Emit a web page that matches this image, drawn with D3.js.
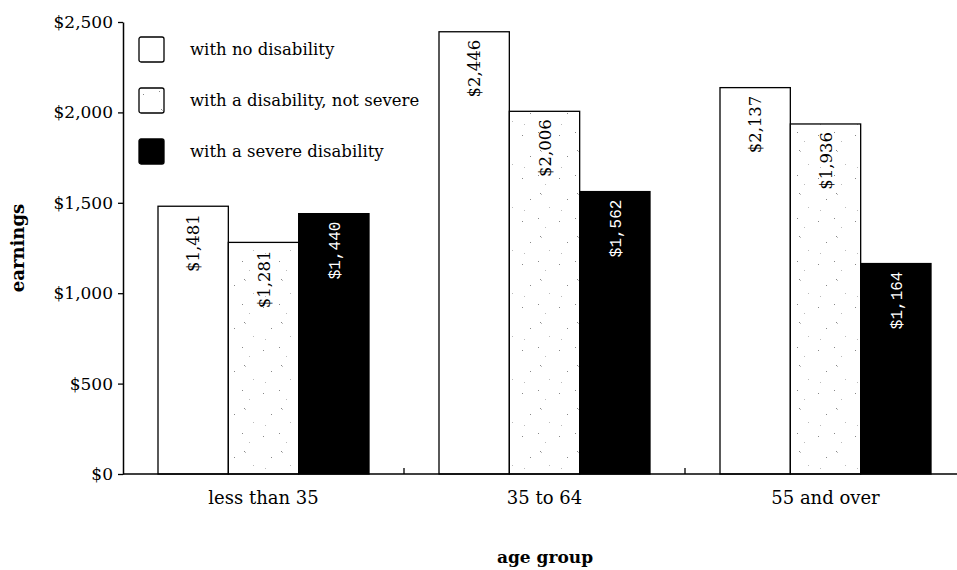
<!DOCTYPE html>
<html>
<head>
<meta charset="utf-8">
<script src="https://cdn.jsdelivr.net/npm/d3@7"></script>
<style>
  body { margin: 0; background: #fff; }
  svg { display: block; }
  text { font-family: "DejaVu Serif", serif; fill: #000; }
</style>
</head>
<body>
<div id="chart"></div>
<script>
// data
let ageGroups = ["less than 35", "35 to 64", "55 and over"];
let seriesNames = ["with no disability", "with a disability, not severe", "with a severe disability"];
let noDisability = [1481, 2446, 2137];
let notSevere = [1281, 2006, 1936];
let severe = [1440, 1562, 1164];
let yTicks = [0, 500, 1000, 1500, 2000, 2500];

let seriesValues = [noDisability, notSevere, severe];

let width = 957, height = 570;
let margin = {top: 22, left: 123, base: 474};
let plotRight = 966;

let svg = d3.select("#chart").append("svg")
    .attr("width", width)
    .attr("height", height);

// sparse stipple for the "not severe" bars
let defs = svg.append("defs");
let pat = defs.append("pattern")
    .attr("id", "stipple")
    .attr("patternUnits", "userSpaceOnUse")
    .attr("width", 37).attr("height", 43);
pat.append("rect").attr("width", 37).attr("height", 43).attr("fill", "#fff");
[[4, 6], [27, 12], [12, 27], [31, 35], [20, 3], [6, 38], [22, 21], [23, 22]].forEach(function(p, i) {
    pat.append("rect")
        .attr("x", p[0]).attr("y", p[1])
        .attr("width", 1).attr("height", 1)
        .attr("fill", i % 2 ? "#bbb" : "#888");
});

let x = d3.scaleBand()
    .domain(ageGroups)
    .range([margin.left, plotRight]);

let xs = d3.scaleBand()
    .domain(d3.range(seriesNames.length))
    .range([35, x.bandwidth() - 35]);

let y = d3.scaleLinear()
    .domain([0, 2500])
    .range([margin.base, margin.top]);

let fills = ["#fff", "url(#stipple)", "#000"];

// bars and rotated value labels
seriesValues.forEach(function(vals, si) {
    let g = svg.append("g");
    g.selectAll("rect")
        .data(vals)
        .join("rect")
        .attr("x", function(d, i) { return x(ageGroups[i]) + xs(si); })
        .attr("y", function(d) { return y(d); })
        .attr("width", xs.bandwidth())
        .attr("height", function(d) { return y(0) - y(d); })
        .attr("fill", fills[si])
        .attr("stroke", "#000")
        .attr("stroke-width", 1.3);

    g.selectAll("text")
        .data(vals)
        .join("text")
        .attr("transform", function(d, i) {
            let cx = x(ageGroups[i]) + xs(si) + xs.bandwidth() / 2 + 6;
            return "translate(" + cx + "," + (y(d) + 8) + ") rotate(-90)";
        })
        .attr("text-anchor", "end")
        .style("font-family", si === 2 ? "'Liberation Mono', monospace" : "'DejaVu Serif', serif")
        .style("font-size", si === 2 ? "16px" : "16.5px")
        .style("fill", si === 2 ? "#fff" : "#000")
        .text(function(d) { return "$" + d3.format(",")(d); });
});

// y axis
let yAxis = d3.axisLeft(y)
    .tickValues(yTicks)
    .tickSize(5)
    .tickSizeOuter(0)
    .tickFormat(function(d) { return "$" + d3.format(",")(d); });
let yg = svg.append("g")
    .attr("transform", "translate(" + margin.left + ",0)")
    .call(yAxis);
yg.select(".domain").attr("stroke-width", 1.5);
yg.selectAll(".tick line").attr("stroke-width", 1.3);
yg.selectAll(".tick text")
    .attr("x", -10)
    .style("font-family", "'DejaVu Serif', serif")
    .style("font-size", "17px");

// x axis: baseline with upward ticks between groups
let xg = svg.append("g")
    .attr("transform", "translate(0," + y(0) + ")");
xg.append("line")
    .attr("x1", margin.left).attr("x2", plotRight)
    .attr("stroke", "#000").attr("stroke-width", 1.5);
xg.selectAll(".sep")
    .data(ageGroups.slice(1))
    .join("line")
    .attr("class", "sep")
    .attr("x1", function(d) { return x(d); })
    .attr("x2", function(d) { return x(d); })
    .attr("y1", 0).attr("y2", -6)
    .attr("stroke", "#000").attr("stroke-width", 1.3);
xg.selectAll(".lbl")
    .data(ageGroups)
    .join("text")
    .attr("class", "lbl")
    .attr("x", function(d) { return x(d) + x.bandwidth() / 2; })
    .attr("y", 30)
    .attr("text-anchor", "middle")
    .style("font-size", "18px")
    .text(function(d) { return d; });

// axis titles
svg.append("text")
    .attr("transform", "translate(24,248) rotate(-90)")
    .attr("text-anchor", "middle")
    .style("font-size", "18px")
    .style("font-weight", "bold")
    .text("earnings");

svg.append("text")
    .attr("x", 545).attr("y", 563)
    .attr("text-anchor", "middle")
    .style("font-size", "17px")
    .style("font-weight", "bold")
    .text("age group");

// legend
let legend = svg.append("g").attr("transform", "translate(139,37)");
let items = legend.selectAll("g")
    .data(seriesNames)
    .join("g")
    .attr("transform", function(d, i) { return "translate(0," + (i * 51) + ")"; });
items.append("rect")
    .attr("width", 25).attr("height", 25)
    .attr("rx", 2)
    .attr("fill", function(d, i) { return fills[i]; })
    .attr("stroke", "#000")
    .attr("stroke-width", 1.3);
items.append("text")
    .attr("x", 51).attr("y", 18)
    .style("font-size", "16.5px")
    .text(function(d) { return d; });
</script>
</body>
</html>
